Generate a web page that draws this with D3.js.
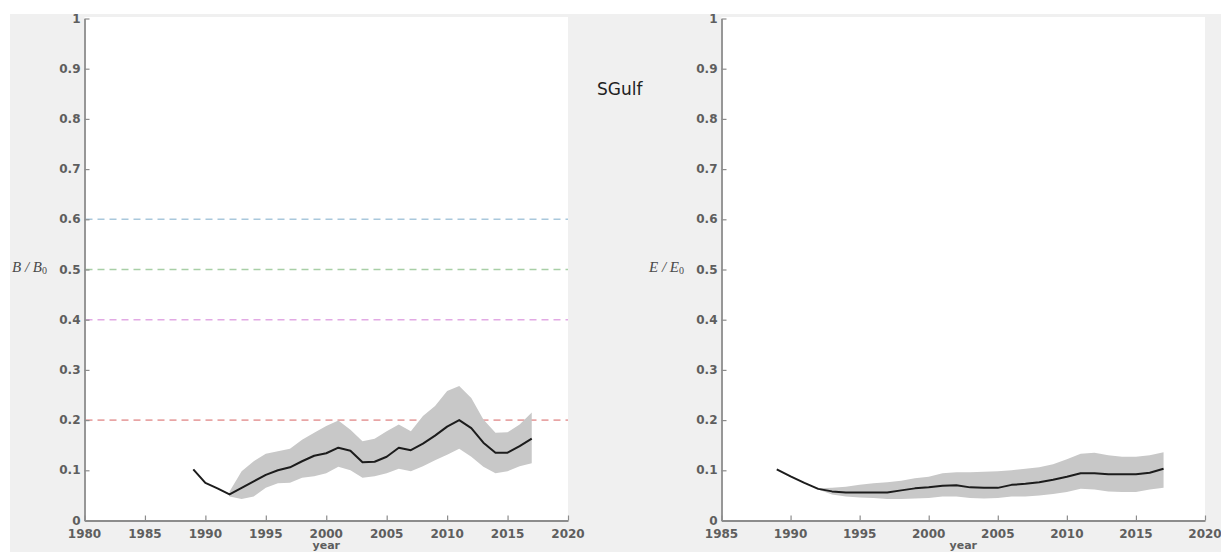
<!DOCTYPE html>
<html>
<head>
<meta charset="utf-8">
<script src="https://cdn.jsdelivr.net/npm/d3@7"></script>
<style>
  html, body { margin: 0; padding: 0; background: #ffffff; }
  svg { display: block; }
</style>
</head>
<body>
<svg id="fig" width="1221" height="553"></svg>
<script>
// Model years for the median trajectories
const years = [1989,1990,1991,1992,1993,1994,1995,1996,1997,1998,1999,2000,2001,2002,2003,
               2004,2005,2006,2007,2008,2009,2010,2011,2012,2013,2014,2015,2016,2017];
// Years covered by the uncertainty envelopes
const bandYears = [1992,1993,1994,1995,1996,1997,1998,1999,2000,2001,2002,2003,2004,
                   2005,2006,2007,2008,2009,2010,2011,2012,2013,2014,2015,2016,2017];

// Relative biomass B/B0
const bMedian = [0.102,0.075,0.064,0.052,0.065,0.078,0.091,0.100,0.106,0.118,0.129,0.134,0.145,0.139,0.116,
                 0.117,0.127,0.145,0.140,0.153,0.169,0.187,0.200,0.184,0.155,0.135,0.135,0.148,0.163];
const bUpper = [0.058,0.098,0.118,0.133,0.138,0.143,0.161,0.175,0.188,0.199,0.181,0.158,0.163,
                0.178,0.191,0.178,0.208,0.228,0.258,0.268,0.244,0.201,0.175,0.176,0.191,0.215];
const bLower = [0.048,0.043,0.048,0.065,0.074,0.075,0.085,0.088,0.094,0.107,0.100,0.085,0.088,
                0.094,0.103,0.098,0.108,0.120,0.131,0.143,0.127,0.107,0.094,0.098,0.108,0.114];

// Relative spawning output E/E0
const eMedian = [0.102,0.088,0.075,0.063,0.058,0.056,0.056,0.056,0.056,0.060,0.064,0.066,0.069,0.070,0.066,
                 0.065,0.065,0.071,0.073,0.076,0.081,0.087,0.094,0.094,0.092,0.092,0.092,0.095,0.103];
const eUpper = [0.064,0.065,0.067,0.071,0.074,0.076,0.079,0.084,0.087,0.094,0.096,0.096,0.097,
                0.098,0.100,0.103,0.106,0.112,0.122,0.133,0.135,0.130,0.127,0.127,0.130,0.136];
const eLower = [0.062,0.052,0.048,0.046,0.045,0.043,0.043,0.044,0.045,0.048,0.048,0.045,0.044,
                0.045,0.048,0.048,0.050,0.053,0.057,0.063,0.062,0.058,0.057,0.057,0.062,0.065];

// Reference levels on the biomass panel
const refLevels = [0.6, 0.5, 0.4, 0.2];
const refColors = ["#a9c8dc", "#a8cfa6", "#e2a9e4", "#e8a5a5"];

// Tick values
const yTicks = [0,0.1,0.2,0.3,0.4,0.5,0.6,0.7,0.8,0.9,1];
const xTicksLeft = [1980,1985,1990,1995,2000,2005,2010,2015,2020];
const xTicksRight = [1985,1990,1995,2000,2005,2010,2015,2020];

const svg = d3.select("#fig");

// Figure background
svg.append("rect").attr("x", 10).attr("y", 14).attr("width", 1211).attr("height", 538)
  .attr("fill", "#f0f0f0");

const yTop = 18.5, yBottom = 520.5;
const axisColor = "#8c8c8c";
const labelColor = "#5e5e5e";
const tickFont = "'DejaVu Sans', Verdana, sans-serif";

function panel(opts) {
  const x = d3.scaleLinear().domain(opts.xDomain).range([opts.left, opts.right]);
  const y = d3.scaleLinear().domain([0, 1]).range([yBottom, yTop]);
  const g = svg.append("g");

  // white axes area
  g.append("rect").attr("x", opts.left).attr("y", yTop - 1.5)
    .attr("width", opts.right - opts.left).attr("height", yBottom - yTop + 1.5)
    .attr("fill", "#ffffff");

  // reference lines
  (opts.refs || []).forEach((v, i) => {
    g.append("line")
      .attr("x1", opts.left + 1).attr("x2", opts.right)
      .attr("y1", y(v)).attr("y2", y(v))
      .attr("stroke", opts.refColors[i]).attr("stroke-width", 1.6)
      .attr("stroke-dasharray", "7,5");
  });

  // uncertainty envelope
  const band = opts.bandYears.map((yr, i) => ({yr, lo: opts.lower[i], hi: opts.upper[i]}));
  g.append("path").datum(band)
    .attr("fill", "#c8c8c8")
    .attr("d", d3.area().x(d => x(d.yr)).y0(d => y(d.lo)).y1(d => y(d.hi)));

  // median trajectory
  const med = opts.years.map((yr, i) => ({yr, v: opts.median[i]}));
  g.append("path").datum(med)
    .attr("fill", "none").attr("stroke", "#1c1c1c").attr("stroke-width", 2)
    .attr("stroke-linejoin", "round")
    .attr("d", d3.line().x(d => x(d.yr)).y(d => y(d.v)));

  // axes, ticks pointing inward
  const xAxis = d3.axisTop(x).tickValues(opts.xTicks).tickFormat("").tickSizeOuter(0).tickSizeInner(5);
  const gx = g.append("g").attr("transform", `translate(0,${yBottom})`).call(xAxis);
  const yAxis = d3.axisRight(y).tickValues(yTicks).tickFormat("").tickSizeOuter(0).tickSizeInner(5);
  const gy = g.append("g").attr("transform", `translate(${opts.left},0)`).call(yAxis);
  [gx, gy].forEach(a => {
    a.select(".domain").attr("stroke", axisColor).attr("stroke-width", 1.8);
    a.selectAll(".tick line").attr("stroke", axisColor).attr("stroke-width", 1.2);
  });

  // tick labels
  g.selectAll(".xl").data(opts.xTicks).join("text")
    .attr("x", d => x(d)).attr("y", 537.5)
    .attr("text-anchor", "middle")
    .attr("font-family", tickFont).attr("font-weight", "bold").attr("font-size", 12)
    .attr("fill", labelColor).text(d => d);
  g.selectAll(".yl").data(yTicks).join("text")
    .attr("x", opts.left - 4).attr("y", d => y(d) + 4)
    .attr("text-anchor", "end")
    .attr("font-family", tickFont).attr("font-weight", "bold").attr("font-size", 12)
    .attr("fill", labelColor).text(d => d3.format("~g")(d));

  // x axis title
  g.append("text").attr("x", (opts.left + opts.right) / 2).attr("y", 549)
    .attr("text-anchor", "middle")
    .attr("font-family", tickFont).attr("font-weight", "bold").attr("font-size", 11)
    .attr("fill", labelColor).text("year");

  // y axis title (italic symbol with subscript zero)
  const yl = g.append("text").attr("x", opts.yLabelX).attr("y", 272)
    .attr("font-family", "'Liberation Serif', 'DejaVu Serif', serif").attr("font-size", 15)
    .attr("fill", "#4a4a4a");
  yl.append("tspan").attr("font-style", "italic").text(opts.sym + " / " + opts.sym);
  yl.append("tspan").attr("font-size", 10).attr("dy", 2).text("0");
}

panel({
  left: 84.5, right: 568, xDomain: [1980, 2020], xTicks: xTicksLeft,
  years, median: bMedian, bandYears, upper: bUpper, lower: bLower,
  refs: refLevels, refColors, sym: "B", yLabelX: 12
});

panel({
  left: 721.5, right: 1205, xDomain: [1985, 2020], xTicks: xTicksRight,
  years, median: eMedian, bandYears, upper: eUpper, lower: eLower,
  sym: "E", yLabelX: 649
});

// Region title
svg.append("text").attr("x", 597).attr("y", 95)
  .attr("font-family", "'DejaVu Sans', sans-serif").attr("font-size", 17)
  .attr("fill", "#222").text("SGulf");
</script>
</body>
</html>
